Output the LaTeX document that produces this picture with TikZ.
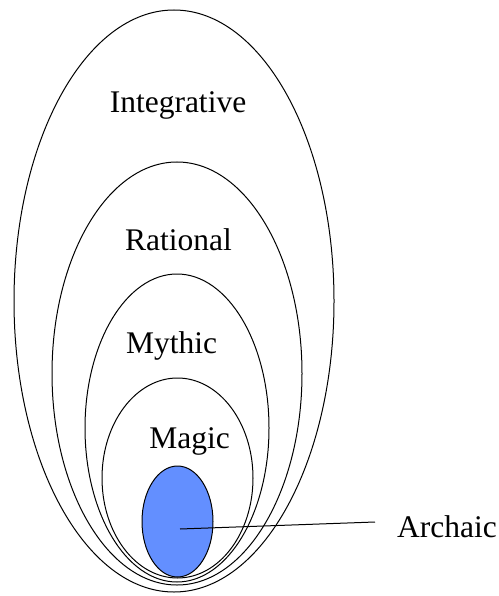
\documentclass[tikz,border=0pt]{standalone}
\usepackage{fontspec}
\setmainfont{Liberation Serif}
\usetikzlibrary{shapes.geometric}
\definecolor{archblue}{RGB}{99,143,255}
\begin{document}
\begin{tikzpicture}[x=1pt,y=-1pt,
  ring/.style={draw=black,line width=1pt,ellipse,inner sep=0pt},
  lbl/.style={font=\fontsize{31.5}{31.5}\selectfont,inner sep=0pt,anchor=base}]
\useasboundingbox (0,0) rectangle (498,596);
\node[ring,minimum width=320pt,minimum height=582pt] (integ) at (174,301) {};
\node[ring,minimum width=250pt,minimum height=423pt] (rat) at (177,373.5) {};
\node[ring,minimum width=184pt,minimum height=308pt] (myth) at (177,428) {};
\node[ring,minimum width=151pt,minimum height=200pt] (mag) at (177.5,478) {};
\node[ring,fill=archblue,minimum width=71pt,minimum height=111pt] (arch) at (177.5,521.5) {};
\node[lbl] (tinteg) at (178,113) {Integrative};
\node[lbl] (trat) at (178.5,250) {Rational};
\node[lbl] (tmyth) at (171.5,353) {Mythic};
\node[lbl] (tmag) at (189.5,448) {Magic};
\node[lbl,anchor=base west] (tarch) at (397,537) {Archaic};
\coordinate (pin) at (180,529);
\coordinate (pend) at (375,522);
\draw[line width=1pt] (pin) -- (pend);
\end{tikzpicture}
\end{document}
